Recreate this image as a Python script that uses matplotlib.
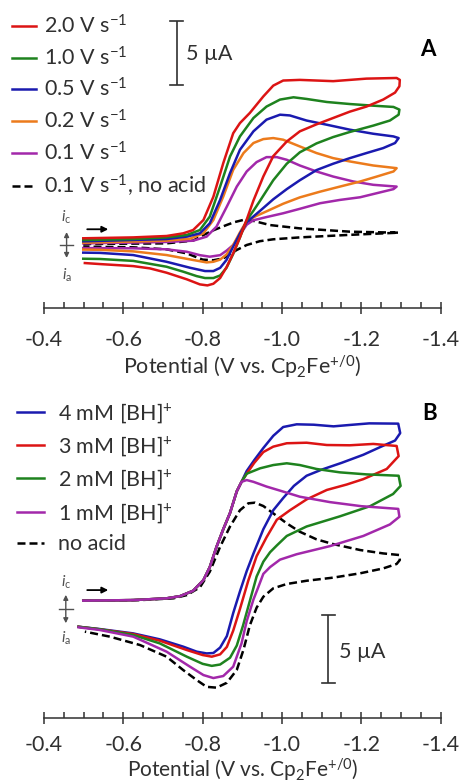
import matplotlib
matplotlib.use('Agg')
import matplotlib.pyplot as plt
from matplotlib.ticker import MultipleLocator

TEXT = '#303030'
MARK = '#505050'
RED = '#dc1414'
GREEN = '#1e821e'
BLUE = '#1a1aaf'
ORANGE = '#ec7b1c'
PURPLE = '#a228aa'
FS = 15.5

plt.rcParams['font.family'] = ['Lato', 'DejaVu Sans']
plt.rcParams['mathtext.fontset'] = 'custom'
plt.rcParams['mathtext.rm'] = 'Lato'
plt.rcParams['mathtext.it'] = 'Lato:italic'
plt.rcParams['mathtext.bf'] = 'Lato:bold'

# ---- panel A: scan-rate series (potential in V, current in uA, cathodic up)
a_2v0_v = [-0.499, -0.625, -0.709, -0.751, -0.776, -0.802, -0.827, -0.852, -0.877, -0.894, -0.919,
           -0.953, -0.978, -1.003, -1.045, -1.087, -1.129, -1.171, -1.213, -1.289, -1.297, -1.296,
           -1.285, -1.255, -1.213, -1.171, -1.129, -1.087, -1.045, -1.012, -0.978, -0.953, -0.928,
           -0.911, -0.894, -0.877, -0.861, -0.844, -0.827, -0.812, -0.793, -0.760, -0.709, -0.667,
           -0.625, -0.541, -0.503]
a_2v0_i = [0.53, 0.60, 0.71, 0.92, 1.18, 1.97, 3.8, 6.45, 8.8, 9.6, 10.4,
           11.7, 12.55, 12.95, 13.0, 12.95, 12.9, 13.0, 13.1, 13.15, 13.0, 12.5,
           12.0, 11.45, 10.9, 10.5, 10.0, 9.5, 8.95, 8.15, 7.0, 5.4, 3.5,
           2.0, 0.6, -0.65, -1.7, -2.6, -3.05, -3.18, -3.1, -2.7, -2.18, -1.84,
           -1.66, -1.5, -1.42]

a_1v0_v = [-0.499, -0.625, -0.709, -0.760, -0.793, -0.818, -0.844, -0.869, -0.894, -0.928, -0.961,
           -0.995, -1.029, -1.062, -1.113, -1.171, -1.230, -1.281, -1.296, -1.294, -1.272, -1.230,
           -1.171, -1.129, -1.087, -1.045, -1.012, -0.978, -0.945, -0.928, -0.911, -0.894, -0.877,
           -0.860, -0.844, -0.827, -0.806, -0.785, -0.751, -0.709, -0.625, -0.541, -0.499]
a_1v0_i = [0.39, 0.47, 0.6, 0.79, 1.18, 2.24, 4.6, 6.97, 8.55, 10.0, 10.9,
           11.45, 11.63, 11.5, 11.26, 11.1, 10.97, 10.87, 10.66, 10.26, 9.8, 9.4,
           8.9, 8.5, 8.0, 7.3, 6.4, 5.1, 3.5, 2.7, 1.95, 0.6, -0.7,
           -1.8, -2.4, -2.6, -2.6, -2.45, -2.1, -1.71, -1.25, -1.1, -1.08]

a_0v5_v = [-0.499, -0.709, -0.760, -0.793, -0.818, -0.844, -0.869, -0.894, -0.928, -0.961, -0.995,
           -1.020, -1.062, -1.113, -1.171, -1.230, -1.281, -1.294, -1.285, -1.255, -1.213, -1.171,
           -1.129, -1.087, -1.045, -1.012, -0.978, -0.945, -0.928, -0.911, -0.894, -0.877, -0.860,
           -0.844, -0.827, -0.806, -0.768, -0.709, -0.625, -0.541, -0.499]
a_0v5_i = [0.29, 0.47, 0.66, 0.92, 1.71, 3.55, 5.66, 7.5, 8.95, 9.87, 10.26,
           10.2, 9.8, 9.47, 9.08, 8.76, 8.55, 8.42, 8.03, 7.63, 7.24, 6.84,
           6.4, 5.9, 5.1, 4.4, 3.6, 2.7, 2.25, 1.8, 0.9, -0.13, -1.18,
           -1.8, -2.05, -2.05, -1.79, -1.32, -0.79, -0.62, -0.6]

a_0v2_v = [-0.499, -0.709, -0.768, -0.802, -0.827, -0.852, -0.877, -0.903, -0.928, -0.953, -0.978,
           -1.003, -1.045, -1.087, -1.129, -1.171, -1.230, -1.289, -1.281, -1.239, -1.197, -1.146,
           -1.096, -1.045, -1.003, -0.961, -0.936, -0.911, -0.894, -0.877, -0.860, -0.844, -0.827,
           -0.810, -0.776, -0.709, -0.625, -0.541, -0.499]
a_0v2_i = [0.18, 0.34, 0.5, 0.92, 1.97, 3.82, 5.92, 7.24, 8.03, 8.34, 8.42,
           8.29, 7.76, 7.24, 6.84, 6.58, 6.26, 6.05, 5.79, 5.39, 5.0, 4.6,
           4.2, 3.75, 3.25, 2.65, 2.3, 1.9, 1.0, 0.0, -0.75, -1.15, -1.32,
           -1.37, -1.18, -0.79, -0.5, -0.38, -0.36]

a_0v1_v = [-0.499, -0.709, -0.776, -0.810, -0.835, -0.861, -0.886, -0.911, -0.936, -0.961, -0.987,
           -1.012, -1.045, -1.087, -1.129, -1.180, -1.230, -1.289, -1.281, -1.239, -1.197, -1.146,
           -1.096, -1.045, -1.003, -0.961, -0.928, -0.911, -0.894, -0.877, -0.860, -0.844, -0.818,
           -0.793, -0.760, -0.709, -0.625, -0.499]
a_0v1_i = [0.13, 0.24, 0.34, 0.66, 1.45, 3.03, 4.6, 5.79, 6.53, 6.92, 6.92,
           6.71, 6.26, 5.79, 5.39, 5.0, 4.74, 4.6, 4.4, 4.08, 3.76, 3.55,
           3.29, 2.85, 2.5, 2.2, 1.95, 1.6, 0.8, 0.0, -0.45, -0.8, -0.92,
           -0.8, -0.53, -0.34, -0.26, -0.24]

a_noacid_v = [-0.499, -0.709, -0.776, -0.802, -0.830, -0.860, -0.880, -0.902, -0.928, -0.970, -1.045,
              -1.171, -1.294, -1.171, -1.045, -0.978, -0.944, -0.911, -0.886, -0.852, -0.827, -0.800,
              -0.760, -0.709, -0.625, -0.499]
a_noacid_i = [0.08, 0.13, 0.35, 0.79, 1.2, 1.57, 1.8, 1.97, 1.9, 1.57, 1.31,
              1.05, 0.97, 0.8, 0.6, 0.45, 0.3, 0.0, -0.39, -1.05, -1.2, -1.15,
              -0.66, -0.34, -0.18, -0.13]

a_labels = ['2.0 V s$^{-1}$', '1.0 V s$^{-1}$', '0.5 V s$^{-1}$', '0.2 V s$^{-1}$',
            '0.1 V s$^{-1}$', '0.1 V s$^{-1}$, no acid']

# ---- panel B: acid concentration series
b_4mm_v = [-0.499, -0.625, -0.709, -0.743, -0.776, -0.802, -0.818, -0.835, -0.852, -0.869, -0.886,
           -0.898, -0.911, -0.930, -0.953, -0.978, -1.003, -1.037, -1.080, -1.130, -1.170, -1.220,
           -1.293, -1.298, -1.285, -1.250, -1.205, -1.150, -1.100, -1.062, -1.030, -1.003, -0.978,
           -0.953, -0.928, -0.911, -0.894, -0.877, -0.861, -0.844, -0.827, -0.810, -0.785, -0.751,
           -0.692, -0.625, -0.541, -0.487]
b_4mm_i = [0.62, 0.66, 0.79, 0.95, 1.35, 2.14, 3.1, 4.6, 5.9, 7.1, 8.7,
           9.4, 10.2, 11.0, 11.9, 12.8, 13.45, 13.65, 13.62, 13.5, 13.6, 13.72,
           13.7, 13.0, 12.45, 12.0, 11.4, 10.8, 10.3, 9.85, 9.1, 8.2, 7.3,
           5.9, 4.1, 2.8, 1.3, -0.3, -2.0, -2.85, -3.25, -3.28, -3.15, -2.78,
           -2.24, -1.8, -1.48, -1.31]

b_3mm_v = [-0.499, -0.625, -0.709, -0.743, -0.776, -0.802, -0.818, -0.835, -0.852, -0.869, -0.886,
           -0.898, -0.911, -0.930, -0.953, -0.978, -1.012, -1.062, -1.113, -1.171, -1.230, -1.289,
           -1.294, -1.264, -1.205, -1.163, -1.113, -1.062, -1.020, -0.987, -0.961, -0.936, -0.915,
           -0.894, -0.877, -0.861, -0.844, -0.823, -0.800, -0.760, -0.692, -0.625, -0.541, -0.487]
b_3mm_i = [0.62, 0.66, 0.79, 0.95, 1.35, 2.14, 3.1, 4.6, 5.9, 7.1, 8.7,
           9.4, 10.0, 10.8, 11.6, 12.0, 12.25, 12.29, 12.12, 12.1, 12.2, 12.05,
           11.3, 10.35, 9.6, 9.2, 8.8, 8.1, 7.3, 6.6, 5.3, 3.9, 2.1,
           0.0, -1.6, -2.8, -3.35, -3.52, -3.4, -3.03, -2.34, -1.85, -1.5, -1.31]

b_2mm_v = [-0.499, -0.625, -0.709, -0.743, -0.776, -0.802, -0.818, -0.835, -0.852, -0.869, -0.886,
           -0.898, -0.911, -0.945, -0.978, -1.012, -1.045, -1.087, -1.146, -1.213, -1.294, -1.299,
           -1.280, -1.222, -1.146, -1.062, -1.012, -0.987, -0.970, -0.953, -0.936, -0.919, -0.902,
           -0.886, -0.869, -0.844, -0.823, -0.800, -0.760, -0.692, -0.625, -0.541, -0.487]
b_2mm_i = [0.62, 0.66, 0.79, 0.95, 1.35, 2.14, 3.1, 4.6, 5.9, 7.1, 8.7,
           9.4, 10.0, 10.4, 10.64, 10.77, 10.64, 10.35, 10.1, 9.95, 9.85, 9.1,
           8.5, 7.6, 6.85, 6.1, 5.4, 4.7, 4.2, 3.5, 2.4, 0.6, -1.2,
           -2.7, -3.6, -4.1, -4.2, -4.05, -3.52, -2.54, -1.92, -1.5, -1.31]

b_1mm_v = [-0.499, -0.625, -0.709, -0.743, -0.776, -0.802, -0.818, -0.835, -0.852, -0.869, -0.886,
           -0.898, -0.911, -0.928, -0.961, -0.995, -1.045, -1.121, -1.200, -1.293, -1.296, -1.272,
           -1.205, -1.121, -1.037, -0.995, -0.970, -0.953, -0.940, -0.928, -0.911, -0.898, -0.877,
           -0.852, -0.827, -0.802, -0.768, -0.709, -0.625, -0.541, -0.487]
b_1mm_i = [0.62, 0.66, 0.79, 0.95, 1.35, 2.14, 3.1, 4.6, 5.9, 7.1, 8.7,
           9.4, 9.53, 9.4, 9.05, 8.75, 8.3, 7.9, 7.6, 7.4, 6.82, 6.25,
           5.4, 4.65, 4.05, 3.65, 3.1, 2.6, 1.6, 0.7, -0.9, -2.54, -4.26,
           -4.95, -5.1, -4.88, -4.26, -3.15, -2.04, -1.55, -1.35]

b_noacid_v = [-0.499, -0.642, -0.726, -0.760, -0.793, -0.818, -0.844, -0.869, -0.894, -0.915, -0.932,
              -0.953, -0.978, -1.012, -1.045, -1.087, -1.129, -1.197, -1.255, -1.296, -1.297, -1.289,
              -1.255, -1.197, -1.129, -1.062, -1.012, -0.978, -0.953, -0.936, -0.919, -0.903, -0.886,
              -0.861, -0.835, -0.810, -0.785, -0.751, -0.709, -0.642, -0.566, -0.503]
b_noacid_i = [0.62, 0.66, 0.79, 1.03, 1.6, 2.76, 4.6, 6.1, 7.3, 7.81, 7.86,
              7.61, 7.07, 6.33, 5.71, 5.15, 4.8, 4.36, 4.11, 3.99, 3.62, 3.33,
              3.0, 2.64, 2.32, 2.09, 1.85, 1.53, 0.91, 0.1, -1.2, -3.0, -4.5,
              -5.45, -5.81, -5.75, -5.25, -4.51, -3.52, -2.66, -2.04, -1.67]

b_labels = ['4 mM [BH]$^{+}$', '3 mM [BH]$^{+}$', '2 mM [BH]$^{+}$', '1 mM [BH]$^{+}$', 'no acid']

xticks = [-0.4, -0.6, -0.8, -1.0, -1.2, -1.4]
scale_ua = 5


def style_axis(ax, ylim, tickpad, labelpad, labelsize=FS):
    ax.set_xlim(-0.4, -1.4)
    ax.set_ylim(*ylim)
    for side in ['top', 'right', 'left']:
        ax.spines[side].set_visible(False)
    ax.spines['bottom'].set_color(TEXT)
    ax.spines['bottom'].set_linewidth(1.1)
    ax.set_yticks([])
    ax.set_xticks(xticks)
    ax.set_xticklabels(['%.1f' % t for t in xticks])
    ax.xaxis.set_minor_locator(MultipleLocator(0.05))
    ax.tick_params(axis='x', which='major', direction='inout', length=8, width=1.1,
                   colors=TEXT, labelsize=FS, pad=tickpad)
    ax.tick_params(axis='x', which='minor', direction='in', length=4, width=1.1, colors=TEXT)
    ax.set_xlabel('Potential (V vs. Cp$_2$Fe$^{+/0}$)', fontsize=labelsize, color=TEXT,
                  labelpad=labelpad)
    ax.patch.set_alpha(0)


def scale_bar(ax, x, y0, tx, ty):
    ax.plot([x, x], [y0, y0 + scale_ua], color=TEXT, lw=1.2, solid_capstyle='butt')
    for y in (y0, y0 + scale_ua):
        ax.plot([x - 0.016, x + 0.016], [y, y], color=TEXT, lw=1.2)
    ax.text(tx, ty, '5 µA', fontsize=FS, color=TEXT, ha='left', va='center')


def current_key(ax, x, ic, ia, span, arrow_y):
    ax.text(x, ic, '$i_\\mathrm{c}$', fontsize=11, color=MARK, ha='center', va='center')
    ax.text(x, ia, '$i_\\mathrm{a}$', fontsize=11, color=MARK, ha='center', va='center')
    ax.annotate('', xy=(x, span), xytext=(x, -span),
                arrowprops=dict(arrowstyle='<|-|>', color=MARK, lw=1.0, mutation_scale=7,
                                shrinkA=0, shrinkB=0))
    ax.plot([x + 0.017, x - 0.017], [0, 0], color=MARK, lw=1.0)
    ax.annotate('', xy=(-0.562, arrow_y), xytext=(-0.509, arrow_y),
                arrowprops=dict(arrowstyle='-|>', color='black', lw=1.3, mutation_scale=9,
                                shrinkA=0, shrinkB=0))


fig = plt.figure(figsize=(4.61, 7.83), dpi=100)
ax_a = fig.add_axes([0.0954, 0.6063, 0.8605, 0.3937])
ax_b = fig.add_axes([0.0954, 0.0834, 0.8605, 0.4160])

lw = 1.8
dash = (0, (3.2, 1.6))

# panel A
ax_a.plot(a_noacid_v, a_noacid_i, color='black', lw=lw, ls=dash, label=a_labels[5])
ax_a.plot(a_0v1_v, a_0v1_i, color=PURPLE, lw=lw, label=a_labels[4])
ax_a.plot(a_0v2_v, a_0v2_i, color=ORANGE, lw=lw, label=a_labels[3])
ax_a.plot(a_0v5_v, a_0v5_i, color=BLUE, lw=lw, label=a_labels[2])
ax_a.plot(a_1v0_v, a_1v0_i, color=GREEN, lw=lw, label=a_labels[1])
ax_a.plot(a_2v0_v, a_2v0_i, color=RED, lw=lw, label=a_labels[0])
style_axis(ax_a, (-4.98, 19.29), 12, 2)
scale_bar(ax_a, -0.7345, 12.6, -0.758, 15.0)
current_key(ax_a, -0.457, 2.2, -2.35, 1.02, 1.24)
ax_a.text(-1.367, 15.4, 'A', fontsize=16, fontweight='bold', color='black', ha='center', va='center')
handles, labels = ax_a.get_legend_handles_labels()
ax_a.legend(handles[::-1], labels[::-1], loc='upper left', bbox_to_anchor=(0.026, 0.982),
            bbox_transform=fig.transFigure, frameon=False, fontsize=FS, handlelength=1.1,
            handletextpad=0.4, labelspacing=0.4, borderpad=0, borderaxespad=0,
            labelcolor=TEXT)

# panel B
ax_b.plot(b_noacid_v, b_noacid_i, color='black', lw=lw, ls=dash, label=b_labels[4])
ax_b.plot(b_4mm_v, b_4mm_i, color=BLUE, lw=lw, label=b_labels[0])
ax_b.plot(b_3mm_v, b_3mm_i, color=RED, lw=lw, label=b_labels[1])
ax_b.plot(b_2mm_v, b_2mm_i, color=GREEN, lw=lw, label=b_labels[2])
ax_b.plot(b_1mm_v, b_1mm_i, color=PURPLE, lw=lw, label=b_labels[3])
style_axis(ax_b, (-8.03, 16.04), 8.5, 0.5, 15)
scale_bar(ax_b, -1.1167, -5.45, -1.143, -3.2)
current_key(ax_b, -0.455, 1.94, -2.17, 1.05, 1.4)
ax_b.text(-1.372, 14.45, 'B', fontsize=16, fontweight='bold', color='black', ha='center', va='center')
handles, labels = ax_b.get_legend_handles_labels()
order = [1, 2, 3, 4, 0]
ax_b.legend([handles[k] for k in order], [labels[k] for k in order], loc='upper left',
            bbox_to_anchor=(0.0369, 0.488), bbox_transform=fig.transFigure, frameon=False,
            fontsize=FS, handlelength=1.25, handletextpad=0.65, labelspacing=0.45, borderpad=0,
            borderaxespad=0, labelcolor=TEXT)

fig.savefig('out.png', dpi=100)
